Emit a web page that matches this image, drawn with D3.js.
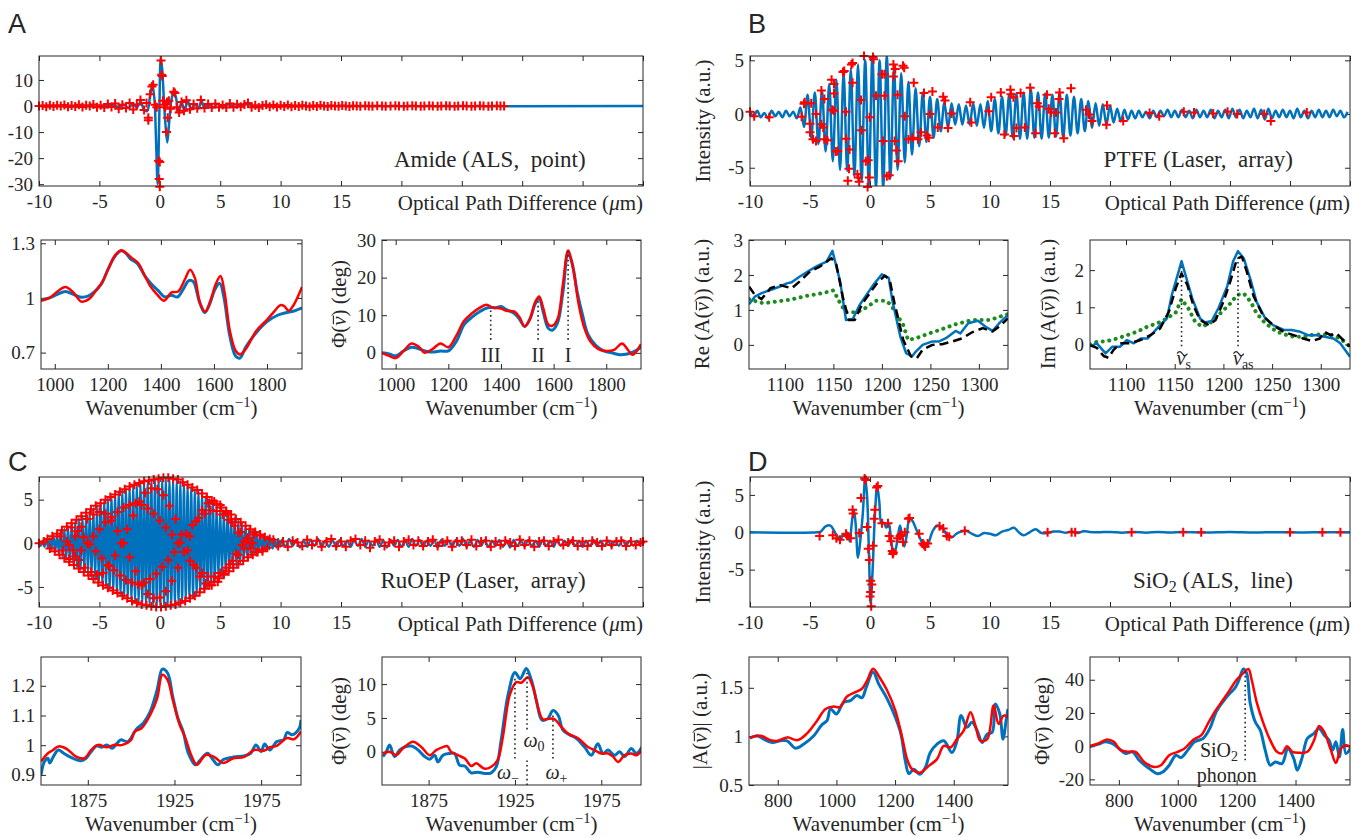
<!DOCTYPE html>
<html>
<head>
<meta charset="utf-8">
<script src="https://cdn.jsdelivr.net/npm/d3@7"></script>
<style>
  body { margin: 0; background: #fff; }
  text { font-family: "Liberation Serif", "Times New Roman", serif; fill: #262626; }
</style>
</head>
<body>
<svg id="fig" width="1353" height="837"></svg>
<script>
// ---------- data: interferograms (OPD in um, intensity) ----------
var opdTicks = [-10, -5, 0, 5, 10, 15, 20, 25, 30, 35, 40];

// A: Amide (ALS, point)
var amideLine = [[-10,0],[-4.2,0],[-3.8,0.4],[-3.4,-0.6],[-3.0,0.6],[-2.6,-0.7],[-2.2,0.9],[-1.9,-0.6],[-1.6,1.6],[-1.3,-1.4],[-1.05,-2],[-0.8,4],[-0.62,8],[-0.45,3],[-0.32,-12],[-0.18,-30],[-0.05,-6],[0.08,18.5],[0.2,14],[0.32,4],[0.45,-6],[0.62,-14],[0.78,-6],[0.95,2],[1.15,6],[1.35,3],[1.55,-2.5],[1.8,1.5],[2.05,-2],[2.3,2],[2.6,-1.2],[2.9,0.8],[3.2,-1],[3.45,2],[3.7,-0.8],[4.0,0.8],[4.4,-0.6],[4.8,0.8],[5.2,-0.4],[5.7,0.6],[6.2,-0.3],[6.8,0.5],[7.3,0.8],[7.8,-0.3],[8.5,0.2],[9.5,0],[40,0]];
var amideMarks = [[-10,0],[-9.7,0.2],[-9.4,-0.3],[-9.1,0.3],[-8.8,-0.2],[-8.5,0.3],[-8.2,0],[-7.9,0.4],[-7.6,-0.3],[-7.3,0.2],[-7.0,-0.2],[-6.7,0.5],[-6.4,-0.4],[-6.1,0.3],[-5.8,0],[-5.5,0.6],[-5.2,-0.5],[-4.9,0.3],[-4.6,-0.6],[-4.3,0.8],[-4.0,-0.4],[-3.7,1.0],[-3.4,-1.0],[-3.1,0.5],[-2.8,-0.8],[-2.5,1.2],[-2.2,-1.3],[-1.9,0.6],[-1.6,2.3],[-1.3,-1.5],[-1.1,1.2],
  [-0.95,-4.5],[-0.95,-5.5],[-0.8,4.5],[-0.65,7.5],[-0.55,8.2],[-0.4,0.5],[-0.25,-0.5],[-0.1,-21],[0.0,-21.5],[-0.05,-28],[0.0,-31],[0.1,17.5],[0.15,12],[0.2,11.5],[0.25,2],[0.35,0.5],[0.45,-0.5],[0.55,-10],[0.6,1.5],[0.65,-4.5],[0.75,2],[0.9,-1],[1.15,5.5],[1.25,5],[1.4,-0.5],
  [1.6,-2.5],[1.8,1.5],[2.0,-1.8],[2.2,2.2],[2.5,-1.2],[2.8,0.8],[3.1,-0.9],[3.4,2.3],[3.7,-0.8],[4.0,0.8],[4.3,-0.6],[4.6,0.9],[4.9,-0.5],[5.2,0.4],[5.5,-0.6],[5.8,1.0],[6.1,-0.5],[6.4,0.7],[6.7,-0.3],[7.0,0.6],[7.3,1.2],[7.6,-0.5],[7.9,0.3],[8.2,-0.6],[8.5,0.2],[8.8,0.5],[9.1,-0.3],[9.4,0.4],[9.7,-0.4],[10.0,0.3],[10.3,-0.2],[10.6,0.4],[10.9,-0.3],[11.2,0.2],[11.5,-0.2],[11.8,0.3],[12.1,0],[12.4,-0.3],[12.7,0.2],[13.0,-0.2],[13.3,0.3],[13.6,0],[13.9,-0.2],[14.2,0.2],[14.5,0],[14.8,-0.1],[15.1,0.2],[15.4,0],[15.7,-0.2],[16.0,0.1],[16.3,0],[16.6,-0.1],[17.0,0.1],[17.3,0],[17.6,-0.1],[18.0,0.1],[18.4,0],[18.7,-0.1],[19.1,0],[19.5,0.1],[19.8,0],[20.2,-0.1],[20.5,0],[20.9,0.1],[21.2,0],[21.6,-0.1],[21.9,0],[22.3,0.1],[22.6,0],[23.0,-0.1],[23.3,0],[23.7,0.1],[24.0,0],[24.4,-0.1],[24.7,0],[25.1,0.1],[25.4,0],[25.8,-0.1],[26.1,0],[26.5,0.1],[26.8,0],[27.2,-0.1],[27.5,0],[27.9,0.1],[28.2,0],[28.5,0]];

// B: PTFE (Laser, array), sampled every 0.3 um from -10
var ptfeStart = -10, ptfeStep = 0.3;
var ptfeLine = [0.2,-0.2,0.3,-0.3,0.1,-0.4,0.3,-0.2,0.2,-0.3,0.3,-0.2,0.2,-0.4,
  0.6,-1.2,1.8,-2.2,2.0,-2.8,2.2,-3.5,2.8,-4.4,3.2,-5.2,3.8,-5.3,4.2,-5.8,4.6,-6.2,5.0,-6.6,5.4,-6.8,5.0,-6.8,5.4,-6.0,
  4.4,-5.2,3.8,-4.5,3.0,-3.8,2.4,-3.0,2.0,-2.6,1.6,-2.2,1.4,-1.6,1.1,-1.3,1.0,-1.0,0.9,-1.0,0.8,-1.0,1.0,-1.1,0.9,-1.3,
  1.2,-1.6,1.4,-1.8,1.6,-2.0,1.8,-2.2,1.9,-2.3,2.0,-2.3,2.3,-2.2,2.0,-2.3,1.9,-2.2,1.8,-2.1,2.0,-2.2,1.8,-2.0,1.6,-1.8,
  1.4,-1.6,1.2,-1.3,1.0,-1.1,0.9,-1.0,0.8,-0.8,0.5,-0.7,0.4,-0.5,0.3,-0.4,0.3,-0.3,0.2,-0.4,0.3,-0.3,0.3,-0.2,0.4,-0.3,
  0.3,-0.3,0.4,-0.3,0.3,-0.4,0.4,-0.3,0.3,-0.3,0.4,-0.4,0.3,-0.3,0.4,-0.4,0.5,-0.3,0.4,-0.4,0.3,-0.3,0.5,-0.4,0.4,-0.5,
  0.5,-0.4,0.3,-0.3,0.4,-0.3,0.3,-0.4,0.5,-0.3,0.3,-0.4,0.3,-0.3,0.4,-0.3,0.3,-0.3,0.4,-0.2,0.3,-0.3,0.2];
var ptfeMarks = [[-10,0.2],[-9.65,-0.2],[-8.4,-0.3],[-5.7,-0.25],[-5.5,0.95],[-5.45,1.1],[-4.9,1.0],[-5,-0.9],[-5,-1.7],[-4.75,-2.35],[-4.5,-2.5],[-4.5,0],[-4.05,-0.95],[-3.9,-1.25],[-4.05,2.2],[-3.8,1.4],[-3.8,-2.35],[-3.55,-2.45],[-3.2,3.2],[-3.0,2.8],[-3.15,0.4],[-3.0,0.3],[-3.0,1.9],[-2.7,-3.45],[-2.85,-3.5],[-2.25,3.9],[-2.15,4.0],[-2,0.2],[-2,-2.3],[-1.7,-3.3],[-1.55,4.6],[-1.45,4.75],[-1.45,2.9],[-1.85,-6.2],[-1.75,-5.1],[-1.05,-5.6],[-0.98,-5.9],[-0.9,-6.3],[-0.75,1.3],[-0.7,-1.5],[-0.35,-4.4],[-0.15,-4.3],[-0.5,5.4],[-0.2,-6.8],[-0.05,-5.9],[-0.03,-0.3],[0.25,5.3],[0.3,5.1],[0.5,1.7],[1.0,3.7],[1.2,3.7],[1.2,1.7],[1.1,-2.5],[1.4,-5.8],[1.6,-5.7],[1.95,4.6],[2.1,4.2],[1.95,3.5],[2.05,-2.5],[2.2,-3.4],[2.35,-4.4],[2.3,1.8],[2.75,4.5],[2.85,4.3],[2.9,-0.2],[3.2,-2.35],[3.55,-2.2],[3.65,2.9],[4.0,-2.35],[4.25,-1.7],[4.5,1.95],[4.75,-2.0],[4.9,-2.2],[5.0,0],[5.2,2.1],[5.65,-1.25],[6.1,1.6],[6.25,1.25],[6.5,-1.3],[6.8,0.05],[8.35,1.1],[8.45,-0.8],[9.9,0.25],[10.1,1.55],[10.9,2.0],[11.2,-1.9],[11.7,2.25],[11.75,1.85],[11.95,1.55],[12.0,-2.05],[12.2,-1.3],[12.55,1.95],[12.9,-1.25],[13.35,2.45],[13.8,-1.8],[13.95,1.0],[14.1,0.7],[14.75,1.8],[14.9,0.5],[15.1,0.15],[15.4,-1.8],[15.5,0.15],[15.75,1.4],[15.8,2.0],[16.15,-2.25],[16.75,2.4],[18.0,0.4],[18.25,-0.05],[18.5,-0.65],[19.75,0.8],[19.7,-1.0],[21.1,-0.65],[23.3,0.1],[24.1,-0.2],[26.15,0.2],[27.0,0.15],[28.6,0.05],[29.8,0.2],[30.6,0],[32.85,0],[33.4,-0.65],[36.4,0.15]];

// C: RuOEP (Laser, array); core sampled every 0.15 um from -10, tail every 0.3 um from 10.1
var ruoepCoreStart = -10, ruoepCoreStep = 0.15;
var ruoepCore = [0.2,-0.3,0.3,-0.4,0.5,-0.5,0.6,-0.7,0.9,-1.0,1.1,-1.3,1.4,-1.6,1.7,-1.9,2.0,-2.2,2.3,-2.5,2.6,-2.8,2.9,-3.1,3.2,-3.4,3.5,-3.7,3.8,-4.0,
  4.1,-4.3,4.4,-4.6,4.7,-4.8,4.9,-5.0,5.2,-5.3,5.4,-5.5,5.6,-5.8,5.9,-6.0,6.1,-6.2,6.3,-6.4,6.5,-6.6,6.7,-6.8,6.8,-6.9,7.0,-7.0,7.1,-7.1,
  7.2,-7.2,7.3,-7.3,7.3,-7.4,7.4,-7.4,7.5,-7.4,7.5,-7.4,7.5,-7.3,7.4,-7.2,7.3,-7.1,7.1,-6.9,7.0,-6.7,6.7,-6.5,6.5,-6.3,6.2,-6.0,
  6.0,-5.7,5.7,-5.4,5.4,-5.1,5.1,-4.8,4.8,-4.5,4.5,-4.2,4.2,-3.9,3.9,-3.6,3.6,-3.3,3.3,-3.0,3.0,-2.7,2.7,-2.4,2.4,-2.1,2.1,-1.8,
  1.8,-1.5,1.5,-1.3,1.3,-1.1,1.1,-0.9,0.9,-0.8,0.8,-0.7,0.6,-0.6,0.5,-0.5,0.5,-0.4];
var ruoepTailStart = 10.1, ruoepTailStep = 0.3;
var ruoepTail = [0.4,-0.4,0.5,-0.3,0.4,-0.5,0.3,-0.4,0.4,-0.3,0.5,-0.4,0.3,-0.4,0.4,-0.5,0.4,-0.3,0.3,-0.4,
  0.4,-0.3,0.5,-0.4,0.3,-0.3,0.4,-0.4,0.3,-0.5,0.4,-0.3,0.4,-0.4,0.3,-0.4,0.5,-0.3,0.4,-0.4,
  0.3,-0.3,0.4,-0.5,0.4,-0.3,0.3,-0.4,0.4,-0.3,0.5,-0.4,0.3,-0.4,0.4,-0.3,0.4,-0.4,0.3,-0.3,
  0.4,-0.4,0.3,-0.5,0.4,-0.3,0.3,-0.4,0.4,-0.3,0.3,-0.4,0.4,-0.3,0.3,-0.4,0.4,-0.3,0.3,-0.3,
  0.4,-0.3,0.3,-0.4,0.3,-0.3,0.4,-0.3,0.3,-0.3,0.3,-0.4,0.3,-0.3,0.4,-0.3,0.3,-0.3,0.3,-0.2];
var ruoepMarks = [
  [-9.3,0.5],[-8.9,0.8],[-8.5,1.1],[-8.1,1.5],[-7.7,1.9],[-7.3,2.3],[-6.9,2.7],[-6.5,3.1],[-6.1,3.5],[-5.7,3.9],[-5.3,4.3],[-4.9,4.6],[-4.5,5.0],[-4.1,5.3],[-3.7,5.6],[-3.3,5.9],[-2.9,6.2],[-2.5,6.5],[-2.1,6.7],[-1.7,6.9],[-1.3,7.1],[-0.9,7.2],[-0.5,7.3],[-0.1,7.4],[0.3,7.5],[0.7,7.5],[1.1,7.4],[1.5,7.3],[1.9,7.0],[2.3,6.7],[2.7,6.4],[3.1,6.1],[3.5,5.7],[3.9,5.3],[4.3,4.9],[4.7,4.5],[5.1,4.1],[5.5,3.7],[5.9,3.3],[6.3,2.8],[6.7,2.4],[7.1,2.0],[7.5,1.6],[7.9,1.3],[8.3,1.0],[8.7,0.7],[9.1,0.5],
  [-9.1,-0.6],[-8.7,-0.9],[-8.3,-1.3],[-7.9,-1.7],[-7.5,-2.1],[-7.1,-2.5],[-6.7,-2.9],[-6.3,-3.3],[-5.9,-3.7],[-5.5,-4.1],[-5.1,-4.5],[-4.7,-4.8],[-4.3,-5.1],[-3.9,-5.4],[-3.5,-5.7],[-3.1,-6.0],[-2.7,-6.3],[-2.3,-6.6],[-1.9,-6.8],[-1.5,-7.0],[-1.1,-7.1],[-0.7,-7.2],[-0.3,-7.3],[0.1,-7.3],[0.5,-7.2],[0.9,-7.1],[1.3,-7.0],[1.7,-6.8],[2.1,-6.6],[2.5,-6.3],[2.9,-6.0],[3.3,-5.6],[3.7,-5.2],[4.1,-4.8],[4.5,-4.4],[4.9,-4.0],[5.3,-3.6],[5.7,-3.2],[6.1,-2.8],[6.5,-2.4],[6.9,-2.0],[7.3,-1.6],[7.7,-1.3],[8.1,-1.0],[8.5,-0.7],[8.9,-0.5],
  [-7.5,-1.8],[-7.0,-1.5],[-6.5,-0.8],[-6.0,0],[-5.5,0.8],[-5.0,1.6],[-4.5,2.4],[-4.0,3.0],[-3.5,3.6],[-3.0,4.1],[-2.5,4.4],[-2.0,4.6],[-1.5,4.4],[-1.0,4.0],[-0.5,3.4],[0.0,2.6],[0.5,1.8],[1.0,1.0],[1.5,0.0],[2.0,-1.0],[2.5,-2.0],[3.0,-2.8],[3.5,-3.4],[4.0,-3.8],[4.5,-3.8],[5.0,-3.4],[5.5,-2.8],[6.0,-2.0],[6.5,-1.3],[7.0,-0.6],[7.5,0],
  [-7.3,1.8],[-6.8,1.4],[-6.3,0.7],[-5.8,-0.1],[-5.3,-0.9],[-4.8,-1.7],[-4.3,-2.5],[-3.8,-3.1],[-3.3,-3.7],[-2.8,-4.2],[-2.3,-4.5],[-1.8,-4.7],[-1.3,-4.5],[-0.8,-4.1],[-0.3,-3.5],[0.2,-2.7],[0.7,-1.9],[1.2,-1.0],[1.7,0.1],[2.2,1.1],[2.7,2.1],[3.2,2.9],[3.7,3.4],[4.2,3.8],[4.7,3.7],[5.2,3.3],[5.7,2.7],[6.2,2.0],[6.7,1.3],[7.2,0.6],[7.7,0],
  [-8.2,0.8],[-7.7,0.2],[-7.2,-0.8],[-6.7,-1.9],[-6.2,-2.8],[-5.7,-3.3],[-5.2,-3.6],[-4.7,-3.4],[-4.2,-2.6],[-3.7,-1.4],[-3.2,0],[-2.7,1.6],[-2.2,3.2],[-1.7,4.8],[-1.2,5.8],[-0.7,6.3],[-0.2,6.2],[0.3,5.5],[0.8,4.3],[1.3,2.8],[1.8,1.0],[2.3,-0.8],[2.8,-2.5],[3.3,-3.8],[3.8,-4.6],[4.3,-4.8],[4.8,-4.4],[5.3,-3.5],[5.8,-2.4],[6.3,-1.2],[6.8,-0.2],[7.3,0.6],[7.8,1.0],[8.3,0.9],
  [-8.0,-0.8],[-7.5,-0.2],[-7.0,0.8],[-6.5,1.9],[-6.0,2.8],[-5.5,3.3],[-5.0,3.6],[-4.5,3.4],[-4.0,2.6],[-3.5,1.4],[-3.0,0],[-2.5,-1.6],[-2.0,-3.2],[-1.5,-4.8],[-1.0,-5.8],[-0.5,-6.3],[0.0,-6.2],[0.5,-5.5],[1.0,-4.3],[1.5,-2.8],[2.0,-1.0],[2.5,0.8],[3.0,2.5],[3.5,3.8],[4.0,4.6],[4.5,4.8],[5.0,4.4],[5.5,3.5],[6.0,2.4],[6.5,1.2],[7.0,0.2],[7.5,-0.6],[8.0,-1.0],[8.5,-0.9],
  [-10,0],[-9.6,0.2],[9.4,0.4],[9.8,-0.3],[10.2,0.2],[10.6,-0.4],[11.0,0.3],[11.4,0.1],[11.8,-0.3],[12.2,0.4],[12.6,-0.2],[13.0,0.3],[13.4,-0.4],[13.8,0.2],[14.2,0.5],[14.6,-0.3],[15.0,0.2],[15.4,-0.4],[15.8,0.3],[16.2,0.5],[16.6,-0.2],[17.0,0.3],[17.4,-0.5],[17.8,0.2],[18.2,0.4],[18.6,-0.3],[19.0,0.1],[19.4,0.3],[19.8,-0.4],[20.2,0.2],[20.6,0.4],[21.0,-0.2],[21.4,0.3],[21.8,-0.3],[22.2,0.2],[22.6,0.4],[23.0,-0.3],[23.4,0.1],[23.8,0.3],[24.2,-0.4],[24.6,0.2],[25.0,0.3],[25.4,-0.2],[25.8,0.4],[26.2,-0.3],[26.6,0.2],[27.0,0.3],[27.4,-0.4],[27.8,0.2],[28.2,-0.2],[28.6,0.3],[29.0,0.1],[29.4,-0.3],[29.8,0.4],[30.2,-0.2],[30.6,0.3],[31.0,-0.4],[31.4,0.2],[31.8,0.3],[32.2,-0.3],[32.6,0.2],[33.0,0.4],[33.4,-0.2],[33.8,0.1],[34.2,0.3],[34.6,-0.3],[35.0,0.2],[35.4,-0.3],[35.8,0.3],[36.2,0.1],[36.6,-0.3],[37.0,0.3],[37.4,-0.2],[37.8,0.2],[38.2,0.3],[38.6,-0.3],[39.0,0.2],[39.4,-0.2],[39.8,0.1],[40,0.2]];

// D: SiO2 (ALS, line)
var sio2Line = [[-10,0],[-4.4,0],[-4.1,0.1],[-3.7,0.8],[-3.3,0.9],[-3.0,0.2],[-2.7,-0.6],[-2.45,-1.0],[-2.25,-0.3],[-2.05,-0.5],[-1.85,-0.1],[-1.7,-1.2],[-1.5,1.5],[-1.35,3.0],[-1.2,1.2],[-1.0,-3.4],[-0.8,-1.0],[-0.6,2.5],[-0.4,7.2],[-0.25,5.0],[-0.1,-2],[0.05,-9.6],[0.22,-5],[0.4,2],[0.6,6.2],[0.78,4.0],[0.95,1.2],[1.15,1.3],[1.35,0.6],[1.55,1.3],[1.75,-0.8],[1.95,-2.9],[2.15,-2.2],[2.35,-0.3],[2.5,0.9],[2.65,-0.3],[2.85,-1.9],[3.05,-0.5],[3.3,1.9],[3.55,1.5],[3.85,0.4],[4.2,-0.9],[4.55,-1.9],[4.85,-1.5],[5.2,0.1],[5.6,0.9],[6.0,0.6],[6.4,-0.3],[6.8,-0.7],[7.2,-0.2],[7.6,0.1],[8.0,0.2],[8.5,-0.2],[9.0,-0.5],[9.5,-0.1],[10.0,-0.2],[10.5,-0.4],[11.0,0.1],[11.5,0.3],[12.0,0.6],[12.4,0.0],[12.8,-0.4],[13.3,0.0],[13.8,0.4],[14.3,-0.1],[14.8,-0.1],[15.3,0.1],[15.8,0.1],[16.3,-0.05],[16.8,0.1],[17.3,-0.1],[17.8,0.15],[18.3,0.05],[19,0],[20,0.05],[21,-0.05],[22,0.05],[23,-0.05],[24,0.05],[25,-0.03],[26,0.03],[28,-0.03],[30,0.03],[32,-0.03],[34,0.02],[36,-0.02],[38,0.02],[40,0]];
var sio2Marks = [[-4.2,-0.5],[-3.1,-0.4],[-2.8,-0.8],[-2.5,-1.0],[-2.0,-0.2],[-1.9,-0.5],[-1.6,-0.8],[-1.45,3.0],[-1.4,2.5],[-0.9,-0.1],[-0.75,4.6],[-0.45,7.2],[-0.35,7.0],[-0.25,0.7],[-0.15,-2.2],[-0.05,-3.7],[0.05,-6.5],[0.05,-8.0],[0.0,-8.6],[0.1,-9.9],[0.15,-7.0],[0.25,-1.8],[0.35,1.8],[0.4,3.0],[0.55,6.0],[0.65,6.2],[1.0,1.2],[1.5,1.2],[1.6,-0.5],[1.75,-1.2],[1.85,-2.5],[1.9,-2.9],[1.95,-2.7],[2.3,-0.8],[2.5,-0.5],[2.6,-0.3],[2.75,-1.3],[2.9,0],[3.2,1.8],[3.3,1.9],[4.1,-0.2],[4.4,-1.5],[4.5,-1.7],[4.6,-1.9],[4.8,-1.5],[5.8,0.8],[6.1,0.5],[6.4,-0.5],[6.6,-0.6],[7.9,0.2],[14.8,0],[16.8,0],[17.1,0],[21.8,0],[26.1,0],[27.6,0],[35.0,0],[37.7,0],[39.2,0]];

// ---------- data: spectra (wavenumber cm^-1, value) ----------
var amideAbsBlue = [[948,0.99],[980,1.0],[1010,1.02],[1040,1.035],[1070,1.02],[1095,1.005],[1125,1.01],[1150,1.035],[1175,1.075],[1200,1.155],[1225,1.225],[1248,1.258],[1265,1.25],[1285,1.215],[1310,1.19],[1340,1.12],[1365,1.075],[1390,1.04],[1415,1.005],[1440,1.015],[1462,1.005],[1485,1.05],[1505,1.095],[1522,1.09],[1545,0.98],[1565,0.92],[1582,0.96],[1605,1.05],[1622,1.08],[1638,1.0],[1660,0.79],[1682,0.68],[1698,0.67],[1720,0.73],[1760,0.81],[1800,0.87],[1840,0.905],[1875,0.92],[1905,0.93],[1932,0.945]];
var amideAbsRed = [[948,0.985],[980,1.0],[1010,1.035],[1040,1.06],[1070,1.03],[1100,0.98],[1130,0.995],[1155,1.04],[1180,1.09],[1205,1.17],[1228,1.235],[1250,1.262],[1270,1.245],[1290,1.22],[1315,1.19],[1340,1.12],[1360,1.065],[1385,1.02],[1412,0.985],[1440,1.03],[1465,1.035],[1490,1.1],[1510,1.155],[1528,1.11],[1548,0.97],[1568,0.925],[1588,0.99],[1608,1.08],[1625,1.12],[1640,1.03],[1660,0.82],[1682,0.71],[1698,0.69],[1720,0.72],[1760,0.82],[1800,0.88],[1830,0.93],[1850,0.96],[1865,0.955],[1882,0.93],[1900,0.96],[1932,1.06]];
var amidePhaseBlue = [[948,0],[975,-0.3],[1000,-0.8],[1030,0.5],[1060,1.5],[1090,1.0],[1110,0.5],[1140,0.2],[1170,0.5],[1200,0.5],[1230,3],[1260,7.5],[1290,9.5],[1320,11],[1350,12],[1380,12],[1400,12.3],[1420,11.5],[1450,10.5],[1470,9],[1490,7],[1510,9],[1530,13],[1545,14.5],[1560,11],[1580,6.5],[1595,6],[1615,8],[1635,16],[1655,26.5],[1670,24],[1690,16],[1710,10],[1730,5],[1760,2],[1790,0.5],[1820,0],[1850,-0.5],[1880,-0.3],[1905,0.3],[1932,1.5]];
var amidePhaseRed = [[948,0],[975,-0.8],[1000,-1.4],[1030,0.5],[1060,2.5],[1090,1.5],[1110,0],[1140,1],[1170,2.5],[1200,1.5],[1230,4.5],[1260,8.5],[1290,10.5],[1320,12],[1345,12.8],[1370,12],[1400,11.8],[1420,11.2],[1450,11],[1470,9.5],[1490,7],[1510,9],[1530,13.5],[1545,15],[1560,12],[1580,7.5],[1595,7.2],[1615,9],[1635,18],[1655,27.2],[1675,22],[1695,13],[1715,7],[1740,3],[1770,1],[1800,0.5],[1830,0.8],[1860,2.5],[1880,1],[1900,-0.5],[1932,2.3]];
var amideBands = [["III",1361,12],["II",1541,14.5],["I",1655,27]];

var ptfeReBlue = [[1063,1.16],[1069,1.38],[1076,1.48],[1085,1.57],[1095,1.67],[1102,1.76],[1107,1.79],[1115,1.95],[1126,2.14],[1134,2.27],[1143,2.38],[1149,2.69],[1157,1.81],[1163,0.71],[1170,0.74],[1177,1.14],[1191,1.71],[1200,2.02],[1207,1.92],[1211,1.24],[1219,0.24],[1225,-0.24],[1231,-0.33],[1235,-0.19],[1242,0],[1252,0.1],[1259,0.1],[1266,0.19],[1276,0.4],[1281,0.33],[1289,0.62],[1299,0.69],[1307,0.52],[1314,0.4],[1321,0.62],[1330,0.86]];
var ptfeReFit = [[1063,1.67],[1069,1.43],[1076,1.31],[1085,1.62],[1095,1.71],[1107,1.62],[1115,1.81],[1126,2.1],[1136,2.24],[1148,2.48],[1153,2.3],[1160,1.33],[1166,0.71],[1172,0.71],[1180,1.19],[1194,1.73],[1203,1.98],[1208,1.86],[1213,1.19],[1222,0.14],[1230,-0.33],[1236,-0.38],[1242,-0.14],[1252,0],[1262,0.02],[1273,0.1],[1283,0.19],[1293,0.36],[1304,0.48],[1314,0.38],[1323,0.57],[1330,0.76]];
var ptfeReModel = [[1063,1.31],[1071,1.24],[1078,1.19],[1091,1.24],[1105,1.29],[1122,1.4],[1139,1.48],[1150,1.56],[1157,1.19],[1163,0.93],[1174,0.93],[1184,1.07],[1194,1.26],[1204,1.26],[1209,1.16],[1215,0.88],[1222,0.57],[1227,0.14],[1235,0.19],[1249,0.33],[1262,0.45],[1276,0.59],[1293,0.71],[1311,0.71],[1330,0.88]];
var ptfeImBlue = [[1063,-0.05],[1070,0.03],[1079,-0.24],[1086,-0.06],[1094,-0.06],[1101,0.12],[1108,0.03],[1115,0.16],[1122,0.16],[1128,0.32],[1135,0.52],[1142,0.7],[1147,1.33],[1154,1.96],[1157,2.24],[1161,1.87],[1168,1.24],[1176,0.7],[1181,0.59],[1188,0.63],[1195,0.98],[1204,1.57],[1210,2.24],[1215,2.51],[1221,2.31],[1228,1.73],[1234,1.15],[1243,0.7],[1251,0.52],[1262,0.39],[1270,0.39],[1279,0.34],[1287,0.25],[1296,0.25],[1304,0.21],[1313,0.16],[1320,0.03],[1330,-0.33]];
var ptfeImFit = [[1063,-0.02],[1070,-0.09],[1077,-0.31],[1082,-0.36],[1087,-0.15],[1094,0.03],[1104,0.03],[1115,0.12],[1125,0.25],[1135,0.43],[1144,0.88],[1151,1.51],[1157,1.91],[1163,1.6],[1169,1.06],[1176,0.66],[1185,0.52],[1192,0.66],[1200,1.15],[1207,1.69],[1214,2.31],[1219,2.36],[1224,1.96],[1231,1.3],[1241,0.76],[1251,0.52],[1262,0.34],[1272,0.25],[1282,0.16],[1291,0.09],[1299,0.16],[1304,0.34],[1310,0.25],[1316,0.3],[1323,0.12],[1330,-0.06]];
var ptfeImModel = [[1063,0],[1070,0.07],[1080,0.09],[1091,0.16],[1101,0.25],[1111,0.34],[1122,0.48],[1132,0.57],[1142,0.7],[1151,0.86],[1157,1.22],[1164,0.97],[1171,0.61],[1178,0.48],[1186,0.57],[1195,0.79],[1207,1.1],[1214,1.33],[1221,1.37],[1228,1.15],[1234,0.84],[1243,0.57],[1255,0.34],[1269,0.22],[1282,0.2],[1293,0.27],[1303,0.27],[1313,0.25],[1322,0.12],[1330,-0.06]];
var ptfeModes = [["s",1157,2.15],["as",1215,2.4]];

var ruoepAbsBlue = [[1848,0.9],[1850,0.945],[1852,0.956],[1853,0.94],[1855,0.96],[1858,0.984],[1861,0.973],[1865,0.96],[1871,0.948],[1874,0.956],[1877,0.979],[1880,0.998],[1883,0.993],[1886,1.001],[1889,0.99],[1892,1.007],[1894,1.018],[1898,1.012],[1901,1.035],[1903,1.054],[1907,1.074],[1911,1.113],[1915,1.187],[1918,1.256],[1921,1.243],[1924,1.164],[1927,1.091],[1930,1.046],[1933,0.973],[1937,0.934],[1940,0.951],[1944,0.973],[1947,0.953],[1950,0.934],[1953,0.951],[1959,0.96],[1965,0.964],[1969,0.973],[1972,1.001],[1975,0.979],[1977,1.004],[1980,0.984],[1984,1.012],[1988,1.018],[1990,1.043],[1993,1.035],[1997,1.057],[1998,1.085]];
var ruoepAbsRed = [[1848,0.945],[1852,0.973],[1855,0.984],[1858,0.996],[1863,0.987],[1868,0.962],[1873,0.956],[1877,0.984],[1881,1.001],[1886,0.993],[1890,1.001],[1895,1.001],[1900,1.018],[1902,1.046],[1906,1.057],[1911,1.102],[1915,1.158],[1918,1.237],[1921,1.22],[1924,1.153],[1928,1.069],[1931,1.029],[1935,0.962],[1938,0.934],[1943,0.967],[1948,0.96],[1953,0.94],[1959,0.956],[1965,0.96],[1971,0.984],[1977,0.982],[1980,0.993],[1984,0.998],[1990,1.024],[1994,1.02],[1998,1.046]];
var ruoepPhaseBlue = [[1848.5,-0.7],[1850.5,0],[1852.4,1],[1855.3,-0.7],[1858.2,0.25],[1861,0.7],[1865,0.85],[1869,0.25],[1872.7,-0.7],[1875.6,-1.1],[1878.5,-0.5],[1880.4,-1.5],[1883.3,-0.5],[1887.2,-0.25],[1890,-0.25],[1893,-2],[1896,-2.1],[1899.7,-3.1],[1903.6,-3],[1907.4,-3.2],[1911.3,-3.1],[1914.2,-2.2],[1917,1.7],[1921,8.4],[1925,11.7],[1928,10.8],[1931.6,12.3],[1934.5,10.6],[1937.4,7.6],[1940.6,4.7],[1944,4.9],[1947,6.1],[1950,5.4],[1952.8,3.2],[1956.7,2.5],[1960.5,2],[1965.3,0.7],[1969.2,-0.5],[1973,1.2],[1976,-0.25],[1978.9,0.25],[1982.7,-0.5],[1985.6,0],[1988.5,-0.7],[1992.4,0.5],[1995.3,-0.25],[1998.5,0.7]];
var ruoepPhaseRed = [[1848.5,-0.25],[1852.4,0],[1856.3,-0.5],[1860,0.5],[1866,1.5],[1870.8,0.7],[1875.6,-0.5],[1879.4,0.25],[1883.3,0.7],[1885.8,0.85],[1888,0],[1892,-0.5],[1896,-1],[1899.7,-2.1],[1902.6,-1.7],[1907.4,-2.5],[1911.3,-2.2],[1915,-1.2],[1918,2.2],[1922,8.4],[1925.8,10.3],[1928.7,10.2],[1932.5,11],[1935.4,9.6],[1938.3,6.6],[1941.2,4.8],[1945,4.9],[1948,4.8],[1951.8,3.7],[1955.7,2.7],[1961.5,2],[1967.3,0.7],[1971,0.25],[1975,-0.25],[1978.9,-0.25],[1981.8,-0.7],[1984.7,-1.5],[1988.5,-0.5],[1992.4,-0.25],[1995.3,-0.5],[1998.5,0.25]];

var sio2AbsBlue = [[705,0.983],[730,1.007],[752,0.972],[781,0.938],[809,0.955],[832,0.955],[860,0.879],[889,0.921],[923,1.007],[951,1.121],[968,1.162],[980,1.283],[1000,1.231],[1025,1.352],[1048,1.369],[1070,1.421],[1087,1.397],[1102,1.507],[1125,1.662],[1144,1.541],[1173,1.386],[1201,1.197],[1220,1.024],[1235,0.748],[1247,0.617],[1264,0.662],[1284,0.61],[1303,0.679],[1320,0.834],[1343,0.921],[1366,0.955],[1394,0.834],[1411,0.955],[1425,1.214],[1445,1.093],[1462,1.145],[1480,1.059],[1497,0.938],[1514,1.024],[1531,1.041],[1542,1.334],[1557,1.231],[1568,0.972],[1580,1.197],[1585,1.283]];
var sio2AbsRed = [[705,0.99],[741,1.007],[775,0.962],[800,0.955],[832,0.99],[868,0.962],[900,1.031],[934,1.162],[963,1.283],[991,1.307],[1011,1.3],[1036,1.41],[1065,1.455],[1087,1.49],[1105,1.576],[1125,1.697],[1150,1.593],[1173,1.472],[1201,1.266],[1224,0.99],[1241,0.766],[1258,0.662],[1286,0.628],[1315,0.697],[1343,0.766],[1366,0.903],[1389,0.886],[1411,0.972],[1434,1.059],[1457,1.248],[1474,1.11],[1491,0.955],[1514,0.972],[1536,1.317],[1553,1.128],[1570,1.214],[1585,1.203]];
var sio2PhaseBlue = [[700,-0.4],[731,1.2],[754,2.6],[777,1.6],[800,-1.4],[823,-4.4],[846,-3.4],[869,-8.5],[903,-13.5],[931,-16.6],[949,-15.6],[971,-11.5],[994,-5.5],[1011,-6.9],[1034,-2.4],[1057,2.6],[1086,4.6],[1109,10.7],[1131,20.8],[1154,26.9],[1177,31.9],[1194,34.9],[1206,39],[1223,46.5],[1234,44],[1246,25.9],[1263,14.7],[1280,9.7],[1297,-2.4],[1314,-11.5],[1331,-9.5],[1354,-10.5],[1374,-1.4],[1394,-7.5],[1406,-14.5],[1423,-6.5],[1440,4.6],[1463,7.7],[1480,10.7],[1497,6.7],[1514,3.6],[1526,-2.4],[1537,2.6],[1549,-6.5],[1560,10.1],[1571,-4.4],[1586,-1.4]];
var sio2PhaseRed = [[700,0],[731,1.6],[760,4],[783,2.6],[806,-2.4],[834,-3.4],[857,-3.4],[886,-9.5],[920,-12.5],[943,-11.5],[971,-5.5],[1000,-3.4],[1023,-1.4],[1051,3.6],[1080,6.7],[1103,13.7],[1126,20.8],[1154,27.9],[1177,33.9],[1200,40],[1223,44],[1240,46.5],[1251,40],[1269,25.9],[1291,13.7],[1314,3.6],[1337,-3.4],[1354,-4.4],[1371,0],[1389,-3.4],[1411,-4],[1440,-3.4],[1463,3.6],[1480,12.1],[1497,8.7],[1520,-2.4],[1537,-10.1],[1554,-1.4],[1571,0.6],[1586,-0.4]];

// ---------- drawing ----------
var svg = d3.select('#fig');
var blue = '#0072BD', red = '#FF0000', green = '#1c8c1c', ink = '#262626';
var clipCount = 0;
var tickSize = 19, labelSize = 21;

function seq(start, step, vals) {
  return vals.map(function(v, i) { return [start + i * step, v]; });
}

function panel(box, xd, yd, xt, yt, xfmt, yfmt) {
  var w = box[2] - box[0], h = box[3] - box[1];
  var g = svg.append('g').attr('transform', 'translate(' + box[0] + ',' + box[1] + ')');
  var x = d3.scaleLinear().domain(xd).range([0, w]);
  var y = d3.scaleLinear().domain(yd).range([h, 0]);
  var id = 'clip' + (clipCount++);
  g.append('clipPath').attr('id', id).append('rect').attr('width', w).attr('height', h);

  var axes = [
    g.append('g').attr('transform', 'translate(0,' + h + ')')
      .call(d3.axisBottom(x).tickValues(xt).tickSizeInner(-5).tickSizeOuter(0).tickPadding(9).tickFormat(xfmt || String)),
    g.append('g')
      .call(d3.axisTop(x).tickValues(xt).tickSizeInner(-5).tickSizeOuter(0).tickFormat('')),
    g.append('g')
      .call(d3.axisLeft(y).tickValues(yt).tickSizeInner(-5).tickSizeOuter(0).tickPadding(6).tickFormat(yfmt || String)),
    g.append('g').attr('transform', 'translate(' + w + ',0)')
      .call(d3.axisRight(y).tickValues(yt).tickSizeInner(-5).tickSizeOuter(0).tickFormat(''))
  ];
  axes.forEach(function(a) {
    a.attr('font-family', null).attr('font-size', tickSize);
    a.select('.domain').remove();
    a.selectAll('.tick line').attr('stroke', ink);
    a.selectAll('.tick text').attr('fill', ink);
  });
  var plot = g.append('g').attr('clip-path', 'url(#' + id + ')');
  var front = g.append('g');
  g.append('rect').attr('width', w).attr('height', h).attr('fill', 'none').attr('stroke', ink).attr('stroke-width', 1);
  return { g: g, plot: plot, front: front, x: x, y: y, w: w, h: h };
}

function drawLine(p, data, color, width, curve, dash) {
  var line = d3.line().x(function(d) { return p.x(d[0]); }).y(function(d) { return p.y(d[1]); })
    .curve(curve || d3.curveCatmullRom);
  var path = p.plot.append('path').datum(data).attr('d', line)
    .attr('fill', 'none').attr('stroke', color).attr('stroke-width', width)
    .attr('stroke-linejoin', 'round');
  if (dash) path.attr('stroke-dasharray', dash);
  if (dash === '0.1 6.5') path.attr('stroke-linecap', 'round');
  return path;
}

function drawCrosses(p, pts) {
  p.front.selectAll(null).data(pts).enter().append('path')
    .attr('d', 'M-4.5,0H4.5M0,-4.5V4.5')
    .attr('transform', function(d) { return 'translate(' + p.x(d[0]) + ',' + p.y(d[1]) + ')'; })
    .attr('stroke', red).attr('stroke-width', 2).attr('fill', 'none');
}

function dotted(p, xv, y0, y1) {
  p.front.append('line').attr('x1', p.x(xv)).attr('x2', p.x(xv)).attr('y1', p.y(y0)).attr('y2', p.y(y1))
    .attr('stroke', ink).attr('stroke-width', 1.6).attr('stroke-dasharray', '1.6 3');
}

// parts: [text, kind] with kind in '', 'it', 'over', 'tilde', 'sub', 'sup'
// 'over' and 'tilde' get an accent drawn above the glyph, placed from the glyph's measured position
function rich(t, parts, size) {
  var shift = 0, idx = 0, accents = [];
  parts.forEach(function(pt) {
    var s = t.append('tspan').text(pt[0]);
    var target = 0;
    if (pt[1] === 'sub') { s.attr('font-size', size * 0.7); target = 4; }
    if (pt[1] === 'sup') { s.attr('font-size', size * 0.7); target = -8; }
    if (pt[1] === 'it' || pt[1] === 'over' || pt[1] === 'tilde') s.attr('font-style', 'italic');
    if (pt[1] === 'over' || pt[1] === 'tilde') accents.push([idx, pt[0].length, pt[1]]);
    if (target !== shift) { s.attr('dy', target - shift); shift = target; }
    idx += pt[0].length;
  });
  var node = t.node(), parent = d3.select(node.parentNode), tf = t.attr('transform');
  accents.forEach(function(a) {
    var p0 = node.getStartPositionOfChar(a[0]), p1 = node.getEndPositionOfChar(a[0] + a[1] - 1);
    var x0 = p0.x + 1.5, x1 = p1.x + 1, yy = p0.y - size * 0.6;
    var el;
    if (a[2] === 'over') {
      el = parent.append('line').attr('x1', x0).attr('x2', x1).attr('y1', yy).attr('y2', yy);
    } else {
      var wd = x1 - x0 + 2, q = wd / 4;
      el = parent.append('path').attr('fill', 'none')
        .attr('d', 'M' + (x0 - 1) + ',' + (yy + 1) + ' q' + q + ',-4 ' + (2 * q) + ',0 t' + (2 * q) + ',0');
    }
    el.attr('stroke', ink).attr('stroke-width', 1.1);
    if (tf) el.attr('transform', tf);
  });
  return t;
}

function label(parent, x, y, parts, size, anchor, rotate) {
  var t = parent.append('text').attr('font-size', size).attr('text-anchor', anchor || 'middle');
  if (rotate) t.attr('transform', 'translate(' + x + ',' + y + ') rotate(-90)');
  else t.attr('x', x).attr('y', y);
  return rich(t, parts, size);
}

var wavenumberLabel = [['Wavenumber (cm', ''], ['\u22121', 'sup'], [')', '']];
var opdLabel = [['Optical Path Difference (', ''], ['\u03bc', 'it'], ['m)', '']];
var phaseLabel = [['\u03a6(', ''], ['\u03bd', 'over'], [') (deg)', '']];

function topPanel(box, yd, yt, name) {
  var p = panel(box, [-10, 40], yd, opdTicks, yt, function(d) { return d <= 15 ? String(d) : ''; });
  label(p.g, p.w, p.h + 24, opdLabel, labelSize, 'end');
  label(p.g, p.w * 0.905, p.h * 0.79 + 8, name, 23, 'end');
  return p;
}

function bottomPanel(box, xd, yd, xt, yt, yfmt) {
  var p = panel(box, xd, yd, xt, yt, String, yfmt);
  label(p.g, p.w / 2, p.h + 46, wavenumberLabel, labelSize, 'middle');
  return p;
}

// panel letters
[['A', 8, 33], ['B', 748, 33], ['C', 8, 471], ['D', 748, 471]].forEach(function(l) {
  svg.append('text').attr('x', l[1]).attr('y', l[2]).text(l[0])
    .attr('font-size', 27).style('font-family', '"Liberation Sans", Arial, sans-serif').attr('fill', '#111');
});

// ----- A -----
var pA = topPanel([39, 56, 643, 186], [-30.7, 19.2], [-30, -20, -10, 0, 10], [['Amide (ALS,\u2002point)', '']]);
drawLine(pA, amideLine, blue, 2.5);
drawCrosses(pA, amideMarks);

var pA1 = bottomPanel([41, 240, 302, 369], [948, 1932], [0.61, 1.318], [1000, 1200, 1400, 1600, 1800], [0.7, 1, 1.3]);
drawLine(pA1, amideAbsBlue, blue, 3);
drawLine(pA1, amideAbsRed, red, 2.5);

var pA2 = bottomPanel([382, 240, 641, 369], [948, 1932], [-4.3, 30], [1000, 1200, 1400, 1600, 1800], [0, 10, 20, 30]);
drawLine(pA2, amidePhaseBlue, blue, 3);
drawLine(pA2, amidePhaseRed, red, 2.5);
amideBands.forEach(function(b) {
  dotted(pA2, b[1], 3.5, b[2]);
  pA2.front.append('text').attr('x', pA2.x(b[1])).attr('y', pA2.y(-0.6) + 7)
    .attr('text-anchor', 'middle').attr('font-size', 20).text(b[0]);
});
label(svg, 346, 304, phaseLabel, labelSize, 'middle', true);

// ----- B -----
var pB = topPanel([750, 56, 1350, 186], [-6.7, 5.4], [-5, 0, 5], [['PTFE (Laser,\u2002array)', '']]);
drawLine(pB, seq(ptfeStart, ptfeStep, ptfeLine), blue, 2.5);
drawCrosses(pB, ptfeMarks);
label(svg, 710, 121, [['Intensity (a.u.)', '']], labelSize, 'middle', true);

var pB1 = bottomPanel([749, 240, 1008, 369], [1063, 1330], [-0.69, 3], [1100, 1150, 1200, 1250, 1300], [0, 1, 2, 3]);
drawLine(pB1, ptfeReModel, green, 4, d3.curveLinear, '0.1 6.5');
drawLine(pB1, ptfeReBlue, blue, 2.5, d3.curveLinear);
drawLine(pB1, ptfeReFit, '#000', 2.5, d3.curveLinear, '9 5');
label(svg, 709, 304, [['Re (A(', ''], ['\u03bd', 'over'], [')) (a.u.)', '']], labelSize, 'middle', true);

var pB2 = bottomPanel([1090, 240, 1350, 369], [1063, 1330], [-0.66, 2.81], [1100, 1150, 1200, 1250, 1300], [0, 1, 2]);
drawLine(pB2, ptfeImModel, green, 4, d3.curveLinear, '0.1 6.5');
drawLine(pB2, ptfeImBlue, blue, 2.5, d3.curveLinear);
drawLine(pB2, ptfeImFit, '#000', 2.5, d3.curveLinear, '9 5');
ptfeModes.forEach(function(m) {
  dotted(pB2, m[1], -0.05, m[2]);
  var t = pB2.front.append('text').attr('x', pB2.x(m[1]) - 5).attr('y', pB2.y(-0.3) + 9).attr('font-size', 20);
  rich(t, [['\u03bd', 'tilde'], [m[0], 'sub']], 20);
});
label(svg, 1055, 304, [['Im (A(', ''], ['\u03bd', 'over'], [')) (a.u.)', '']], labelSize, 'middle', true);

// ----- C -----
var pC = topPanel([39, 477, 643, 607], [-7.3, 7.6], [-5, 0, 5], [['RuOEP (Laser,\u2002array)', '']]);
drawLine(pC, seq(ruoepCoreStart, ruoepCoreStep, ruoepCore).concat(seq(ruoepTailStart, ruoepTailStep, ruoepTail)), blue, 2.2);
drawCrosses(pC, ruoepMarks);

var pC1 = bottomPanel([41, 657, 301, 785], [1848, 1998], [0.866, 1.297], [1875, 1925, 1975], [0.9, 1, 1.1, 1.2]);
drawLine(pC1, ruoepAbsBlue, blue, 3);
drawLine(pC1, ruoepAbsRed, red, 2.5);

var pC2 = bottomPanel([382, 657, 641, 785], [1848, 1998], [-4.9, 14], [1875, 1925, 1975], [0, 5, 10]);
drawLine(pC2, ruoepPhaseBlue, blue, 3);
drawLine(pC2, ruoepPhaseRed, red, 2.5);
dotted(pC2, 1925, -1, 10.8);
dotted(pC2, 1932, 3.3, 12);
dotted(pC2, 1932, -4.9, -1);
dotted(pC2, 1947, -1, 5.8);
[['-', 1921, -3.2], ['0', 1936, 1.6], ['+', 1949, -3.2]].forEach(function(o) {
  var t = pC2.front.append('text').attr('x', pC2.x(o[1])).attr('y', pC2.y(o[2]) + 6)
    .attr('text-anchor', 'middle').attr('font-size', 20);
  rich(t, [['\u03c9', 'it'], [o[0] === '-' ? '\u2212' : o[0], 'sub']], 20);
});
label(svg, 346, 721, phaseLabel, labelSize, 'middle', true);

// ----- D -----
var pD = topPanel([750, 477, 1350, 607], [-10, 7.4], [-5, 0, 5], [['SiO', ''], ['2', 'sub'], [' (ALS,\u2002line)', '']]);
drawLine(pD, sio2Line, blue, 2.5);
drawCrosses(pD, sio2Marks);
label(svg, 710, 542, [['Intensity (a.u.)', '']], labelSize, 'middle', true);

var pD1 = bottomPanel([749, 657, 1008, 785], [702, 1585], [0.5, 1.817], [800, 1000, 1200, 1400], [0.5, 1, 1.5]);
drawLine(pD1, sio2AbsBlue, blue, 3);
drawLine(pD1, sio2AbsRed, red, 2.5);
label(svg, 707, 721, [['|A(', ''], ['\u03bd', 'over'], [')| (a.u.)', '']], labelSize, 'middle', true);

var pD2 = bottomPanel([1090, 657, 1350, 785], [702, 1585], [-23.4, 53.7], [800, 1000, 1200, 1400], [-20, 0, 20, 40]);
drawLine(pD2, sio2PhaseBlue, blue, 3);
drawLine(pD2, sio2PhaseRed, red, 2.5);
dotted(pD2, 1229, -8.5, 45);
label(pD2.front, pD2.x(1140), pD2.y(-4.4) + 4, [['SiO', ''], ['2', 'sub']], 20, 'middle');
label(pD2.front, pD2.x(1166), pD2.y(-16.2) + 9, [['phonon', '']], 20, 'middle');
label(svg, 1049, 721, phaseLabel, labelSize, 'middle', true);
</script>
</body>
</html>
